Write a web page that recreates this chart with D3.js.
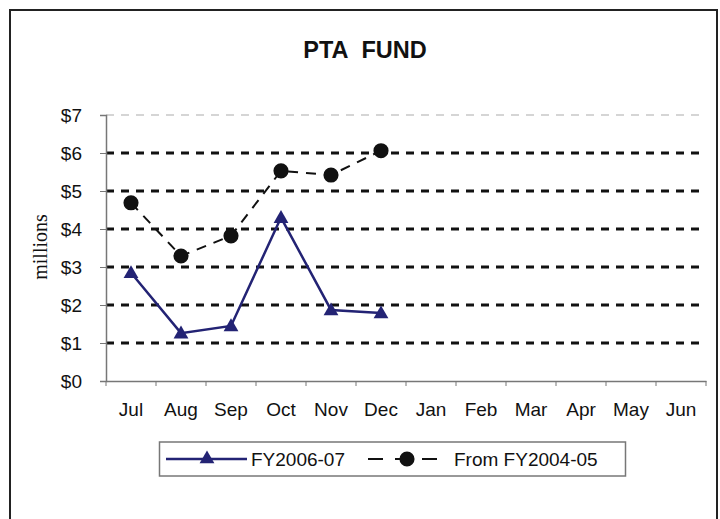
<!DOCTYPE html>
<html>
  <head>
    <meta charset="utf-8">
    <title>PTA FUND</title>
    <script src="https://d3js.org/d3.v7.min.js"></script>
    <style>
      body { margin: 0; background: #fff; }
      svg text { font-family: "Liberation Sans", Arial, sans-serif; fill: #111; }
    </style>
  </head>
  <body>
  <div id="chart"></div>
  <script>
    // data
    var months = ["Jul", "Aug", "Sep", "Oct", "Nov", "Dec", "Jan", "Feb", "Mar", "Apr", "May", "Jun"];
    var fy0607 = [2.85, 1.26, 1.45, 4.30, 1.87, 1.79];
    var fy0405 = [4.69, 3.29, 3.82, 5.53, 5.42, 6.06];
    var yTicks = [0, 1, 2, 3, 4, 5, 6, 7];
    var seriesNames = ["FY2006-07", "From FY2004-05"];

    var W = 720, H = 519;
    var plot = {left: 106, right: 706, top: 115, bottom: 381};
    var navy = "#232374";

    var svg = d3.select("#chart").append("svg")
                .attr("width", W)
                .attr("height", H);

    // outer frame (bottom edge is cut off)
    svg.append("rect")
         .attr("x", 10).attr("y", 10)
         .attr("width", 707).attr("height", 530)
         .attr("fill", "none")
         .attr("stroke", "#222")
         .attr("stroke-width", 2);

    svg.append("text")
         .attr("x", 365).attr("y", 58)
         .attr("text-anchor", "middle")
         .style("font-size", "23.5px")
         .style("font-weight", "bold")
         .text("PTA\u00a0\u00a0FUND");

    var x = d3.scaleBand().domain(months).range([plot.left, plot.right]);
    var y = d3.scaleLinear().domain([0, 7]).range([plot.bottom, plot.top]);

    // gridlines
    svg.append("g")
      .selectAll("line")
      .data(yTicks.filter(function (d) { return d > 0; }))
      .enter()
      .append("line")
        .attr("x1", plot.left).attr("x2", plot.right)
        .attr("y1", function (d) { return y(d); })
        .attr("y2", function (d) { return y(d); })
        .attr("stroke", function (d) { return d === 7 ? "#c8c8c8" : "#111"; })
        .attr("stroke-width", function (d) { return d === 7 ? 1.5 : 3; })
        .attr("stroke-dasharray", "8,7");

    // y axis
    var yAxis = svg.append("g")
         .attr("transform", `translate(${plot.left},0)`)
         .call(d3.axisLeft(y).tickValues(yTicks).tickSize(6).tickPadding(18)
                 .tickFormat(function (d) { return "$" + d; }));
    // x axis
    var xAxis = svg.append("g")
         .attr("transform", `translate(0,${plot.bottom})`)
         .call(d3.axisBottom(x).tickSize(0).tickPadding(22));
    xAxis.selectAll(".tick").each(function (d, i) {
      d3.select(this).append("line")
        .attr("x1", -x.bandwidth() / 2).attr("x2", -x.bandwidth() / 2)
        .attr("y1", 0).attr("y2", 5)
        .attr("stroke", "#777");
    });
    xAxis.append("line")
         .attr("x1", plot.right).attr("x2", plot.right)
         .attr("y1", 0).attr("y2", 5).attr("stroke", "#777");
    [yAxis, xAxis].forEach(function (g) {
      g.select(".domain").attr("stroke", "#777").attr("stroke-width", 1.5);
      g.selectAll(".tick line").attr("stroke", "#777");
      g.selectAll("text").style("font-size", "19px").attr("fill", "#111")
        .style("font-family", "'Liberation Sans', Arial, sans-serif");
    });

    svg.append("text")
         .attr("transform", "translate(47,247) rotate(-90)")
         .attr("text-anchor", "middle")
         .style("font-family", "'Liberation Serif', 'Times New Roman', serif")
         .style("font-size", "20px")
         .text("millions");

    var cx = function (d, i) { return x(months[i]) + x.bandwidth() / 2; };
    var line = d3.line().x(cx).y(function (d) { return y(d); });
    var tri = d3.symbol().type(d3.symbolTriangle).size(95);
    var dot = d3.symbol().type(d3.symbolCircle).size(180);

    // From FY2004-05
    svg.append("path")
         .datum(fy0405)
         .attr("d", line)
         .attr("fill", "none")
         .attr("stroke", "#111")
         .attr("stroke-width", 2)
         .attr("stroke-dasharray", "10,8");
    svg.append("g").selectAll("path")
      .data(fy0405).enter().append("path")
        .attr("d", dot)
        .attr("transform", function (d, i) { return `translate(${cx(d, i)},${y(d)})`; })
        .attr("fill", "#111");

    // FY2006-07
    svg.append("path")
         .datum(fy0607)
         .attr("d", line)
         .attr("fill", "none")
         .attr("stroke", navy)
         .attr("stroke-width", 2.5);
    svg.append("g").selectAll("path")
      .data(fy0607).enter().append("path")
        .attr("d", tri)
        .attr("transform", function (d, i) { return `translate(${cx(d, i)},${y(d) + 1})`; })
        .attr("fill", navy);

    // legend
    var lg = svg.append("g");
    lg.append("rect")
      .attr("x", 159.5).attr("y", 442)
      .attr("width", 466).attr("height", 34)
      .attr("fill", "#fff")
      .attr("stroke", "#777")
      .attr("stroke-width", 1.5);
    var ly = 459;
    lg.append("line").attr("x1", 166).attr("x2", 247).attr("y1", ly).attr("y2", ly)
      .attr("stroke", navy).attr("stroke-width", 2.5);
    lg.append("path").attr("d", tri).attr("transform", `translate(207,${ly})`).attr("fill", navy);
    lg.append("text").attr("x", 251).attr("y", ly + 7).style("font-size", "19px").text(seriesNames[0]);
    lg.append("line").attr("x1", 368).attr("x2", 446).attr("y1", ly).attr("y2", ly)
      .attr("stroke", "#111").attr("stroke-width", 2).attr("stroke-dasharray", "15,12");
    lg.append("path").attr("d", dot).attr("transform", `translate(407,${ly})`).attr("fill", "#111");
    lg.append("text").attr("x", 454).attr("y", ly + 7).style("font-size", "19px").text(seriesNames[1]);
  </script>
  </body>
</html>
